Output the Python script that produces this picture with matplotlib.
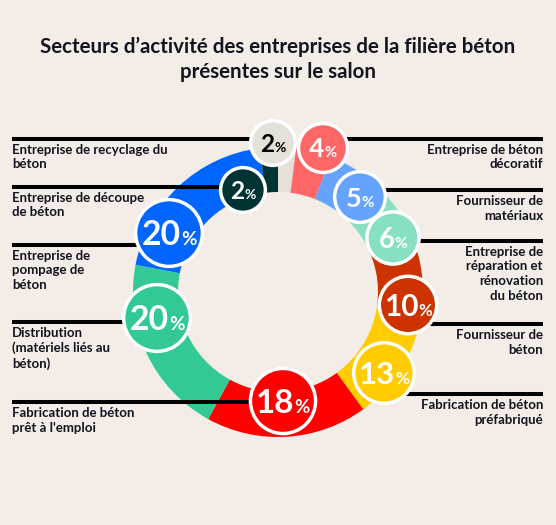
import numpy as np
import matplotlib.pyplot as plt
from matplotlib.patches import Circle

plt.rcParams['font.family'] = ['Lato', 'DejaVu Sans']

title = "Secteurs d’activité des entreprises de la filière béton\nprésentes sur le salon"

# sectors, clockwise from 12 o'clock
sectors = [
    "Entreprise de recyclage du\nbéton",
    "Entreprise de béton\ndécoratif",
    "Fournisseur de\nmatériaux",
    "Entreprise de\nréparation et\nrénovation\ndu béton",
    "Fournisseur de\nbéton",
    "Fabrication de béton\npréfabriqué",
    "Fabrication de béton\nprêt à l'emploi",
    "Distribution\n(matériels liés au\nbéton)",
    "Entreprise de\npompage de\nbéton",
    "Entreprise de découpe\nde béton",
]
shares = [2, 4, 5, 6, 10, 13, 18, 20, 20, 2]
colors = ["#e6e1d8", "#ff6666", "#66a3ff", "#88e0c2", "#cc3300",
          "#ffcc00", "#ff0000", "#33c994", "#0066ff", "#003333"]

# layout in pixels (figure is 556 x 525, y down)
badge_xy = [(273, 143), (323, 148), (360, 197), (393, 238), (408, 305),
            (384, 373), (283, 401), (157, 318), (169, 233), (243, 190)]
leader_y = [139, 139, 190, 241, 324, 394, 402, 322, 245, 187]
side = ['L', 'R', 'R', 'R', 'R', 'R', 'L', 'L', 'L', 'L']

bg = '#f3ece7'
ink = '#14141f'
cx, cy = 278, 292

fig = plt.figure(figsize=(5.56, 5.25), dpi=100, facecolor=bg)
ax = fig.add_axes([0, 0, 1, 1])
ax.set_facecolor(bg)

ax.pie(shares, colors=colors, startangle=270, counterclock=True,
       radius=145, center=(cx, cy),
       wedgeprops=dict(width=45, linewidth=0))
ax.set_xlim(0, 556)
ax.set_ylim(525, 0)
ax.set_aspect('equal')
ax.axis('off')

fig.text(0.5, 1 - 59 / 525, title, ha='center', va='center', fontsize=14.8,
         fontweight='bold', color=ink, linespacing=1.3)

# leader lines + labels
for lab, (bx, by), ly, s in zip(sectors, badge_xy, leader_y, side):
    if s == 'L':
        ax.plot([12, bx], [ly, ly], color='black', lw=2.9,
                solid_capstyle='butt', zorder=3)
        ax.text(12, ly + 5, lab, ha='left', va='top', fontsize=9.5,
                fontweight='bold', color=ink, linespacing=1.25)
    else:
        ax.plot([bx, 543], [ly, ly], color='black', lw=2.9,
                solid_capstyle='butt', zorder=3)
        ax.text(543, ly + 5, lab, ha='right', va='top', fontsize=9.5,
                fontweight='bold', color=ink, linespacing=1.25,
                multialignment='right')

# percentage badges
renderer = fig.canvas.get_renderer()
for v, c, (bx, by) in zip(shares, colors, badge_xy):
    r = 19 + 3.6 * np.sqrt(v)
    ax.add_patch(Circle((bx, by), r - 1.7, facecolor=c, edgecolor='white',
                        lw=2.5, zorder=5))
    fs = 14.5 + 2.2 * np.sqrt(v)
    tc = 'black' if c == "#e6e1d8" else 'white'
    t1 = ax.text(0, 0, str(v), fontsize=fs, fontweight='bold', color=tc,
                 ha='left', va='baseline', zorder=6)
    t2 = ax.text(0, 0, '%', fontsize=fs * 0.56, fontweight='bold', color=tc,
                 ha='left', va='baseline', zorder=6)
    w1 = t1.get_window_extent(renderer).width
    w2 = t2.get_window_extent(renderer).width
    x0 = bx - (w1 + w2) / 2
    base = by + 0.5 * fs  # digit height in px ~ fs in pt at 100 dpi
    t1.set_position((x0, base))
    t2.set_position((x0 + w1, base))

fig.savefig('out.png', dpi=100, facecolor=bg)
